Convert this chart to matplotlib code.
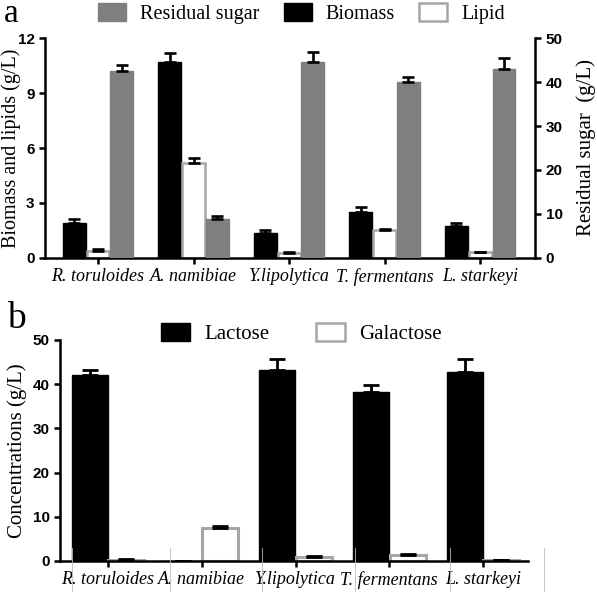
import numpy as np
import matplotlib
matplotlib.use("Agg")
import matplotlib.pyplot as plt
from matplotlib.patches import Patch

# ---- data ----
strains = ["R. toruloides", "A. namibiae", "Y.lipolytica", "T. fermentans", "L. starkeyi"]

biomass = [1.9, 10.7, 1.35, 2.5, 1.75]
biomass_err = [0.2, 0.5, 0.2, 0.3, 0.17]
lipid = [0.4, 5.2, 0.27, 1.5, 0.3]
lipid_err = [0.07, 0.25, 0.08, 0.1, 0.05]
sugar = [42.5, 8.9, 44.5, 40.0, 43.0]
sugar_err = [1.4, 0.6, 2.3, 1.1, 2.4]

lactose = [42.1, 0.0, 43.2, 38.3, 42.8]
lactose_err = [1.2, 0.0, 2.6, 1.5, 2.9]
galactose = [0.3, 7.5, 1.0, 1.3, 0.2]
galactose_err = [0.1, 0.5, 0.2, 0.3, 0.05]

SERIF = "Liberation Serif"
SANS = "Liberation Sans"
GRAY = "#7f7f7f"
EDGE_GRAY = "#a6a6a6"

plt.rcParams.update({
    "font.family": SERIF,
    "axes.linewidth": 1.8,
    "xtick.major.width": 1.8,
    "ytick.major.width": 1.8,
    "xtick.major.size": 4,
    "ytick.major.size": 4,
})

fig = plt.figure(figsize=(5.97, 5.92), dpi=100)

# =====================================================
# panel a
# =====================================================
ax = fig.add_axes([0.0754, 0.5642, 0.821, 0.3716])
ax2 = ax.twinx()
x = np.arange(len(strains))
w = 0.24
up = dict(capsize=4, ecolor="black", error_kw=dict(elinewidth=1.9, capthick=1.9))


def errs(e):
    return [np.zeros(len(e)), e]


ax.bar(x - 0.25, biomass, w, color="black", edgecolor="black", yerr=errs(biomass_err), **up)
ax.bar(x, lipid, w, color="white", edgecolor=EDGE_GRAY, linewidth=1.8, yerr=errs(lipid_err), **up)
ax2.bar(x + 0.25, sugar, w, color=GRAY, edgecolor=GRAY, yerr=errs(sugar_err), **up)

ax.set_xlim(-0.555, 4.576)
ax.set_ylim(0, 12)
ax2.set_ylim(0, 50)
ax.set_yticks([0, 3, 6, 9, 12])
ax2.set_yticks([0, 10, 20, 30, 40, 50])
ax.set_xticks(x)
ax.set_xticklabels(strains, fontstyle="italic", fontsize=13, family=SERIF)
for a in (ax, ax2):
    a.spines["top"].set_visible(False)
    for lab in a.get_yticklabels():
        lab.set_fontweight("bold")
        lab.set_family(SANS)
        lab.set_fontsize(11)
ax.spines["right"].set_visible(False)
ax2.spines["left"].set_visible(False)
ax2.spines["bottom"].set_visible(False)
ax.set_ylabel("Biomass and lipids (g/L)", fontsize=14.5, va="center")
ax.yaxis.set_label_coords(-0.069, 0.5)
ax2.set_ylabel("Residual sugar  (g/L)", fontsize=15, va="center")
ax2.yaxis.set_label_coords(1.104, 0.5)

handles_a = [
    Patch(facecolor=GRAY, edgecolor=GRAY, label="Residual sugar"),
    Patch(facecolor="black", edgecolor="black", label="Biomass"),
    Patch(facecolor="white", edgecolor=EDGE_GRAY, linewidth=1.8, label="Lipid"),
]
fig.legend(handles=handles_a, loc="center", bbox_to_anchor=(0.505, 0.977), ncol=3,
           frameon=False, fontsize=14.5, handlelength=1.4, handleheight=1.0,
           columnspacing=1.2, handletextpad=0.7)
fig.text(0.006, 0.962, "a", fontsize=24, va="baseline", ha="left")

# =====================================================
# panel b
# =====================================================
bx = fig.add_axes([0.1005, 0.0524, 0.784, 0.3733])
wb = 0.385
upb = dict(capsize=6, ecolor="black", error_kw=dict(elinewidth=2, capthick=2))
bx.bar(x - 0.195, lactose, wb, color="black", edgecolor="black", yerr=errs(lactose_err), **upb)
bx.bar(x + 0.195, galactose, wb, color="white", edgecolor=EDGE_GRAY, linewidth=2.2,
       yerr=errs(galactose_err), **upb)
bx.set_xlim(-0.512, 4.48)
bx.set_ylim(0, 50)
bx.set_yticks([0, 10, 20, 30, 40, 50])
bx.set_xticks(x)
bx.set_xticklabels(strains, fontstyle="italic", fontsize=13, family=SERIF)
for lab in bx.get_yticklabels():
    lab.set_fontweight("bold")
    lab.set_family(SANS)
    lab.set_fontsize(11)
bx.spines["top"].set_visible(False)
bx.spines["right"].set_visible(False)
bx.set_ylabel("Concentrations (g/L)", fontsize=15, va="center")
bx.yaxis.set_label_coords(-0.092, 0.5)

handles_b = [
    Patch(facecolor="black", edgecolor="black", label="Lactose"),
    Patch(facecolor="white", edgecolor=EDGE_GRAY, linewidth=1.8, label="Galactose"),
]
fig.legend(handles=handles_b, loc="center", bbox_to_anchor=(0.505, 0.437), ncol=2,
           frameon=False, fontsize=15, handlelength=1.4, handleheight=1.0,
           columnspacing=2.2, handletextpad=0.7)
fig.text(0.012, 0.446, "b", fontsize=27, va="baseline", ha="left")

# faint table-border lines that show through in the original scan
for xf in [72, 170, 262, 355, 450, 544]:
    fig.add_artist(plt.Line2D([xf / 597, xf / 597], [0.0, 0.075], color="#bbbbbb",
                              linewidth=0.6, transform=fig.transFigure))

fig.savefig("out.png", dpi=100)
